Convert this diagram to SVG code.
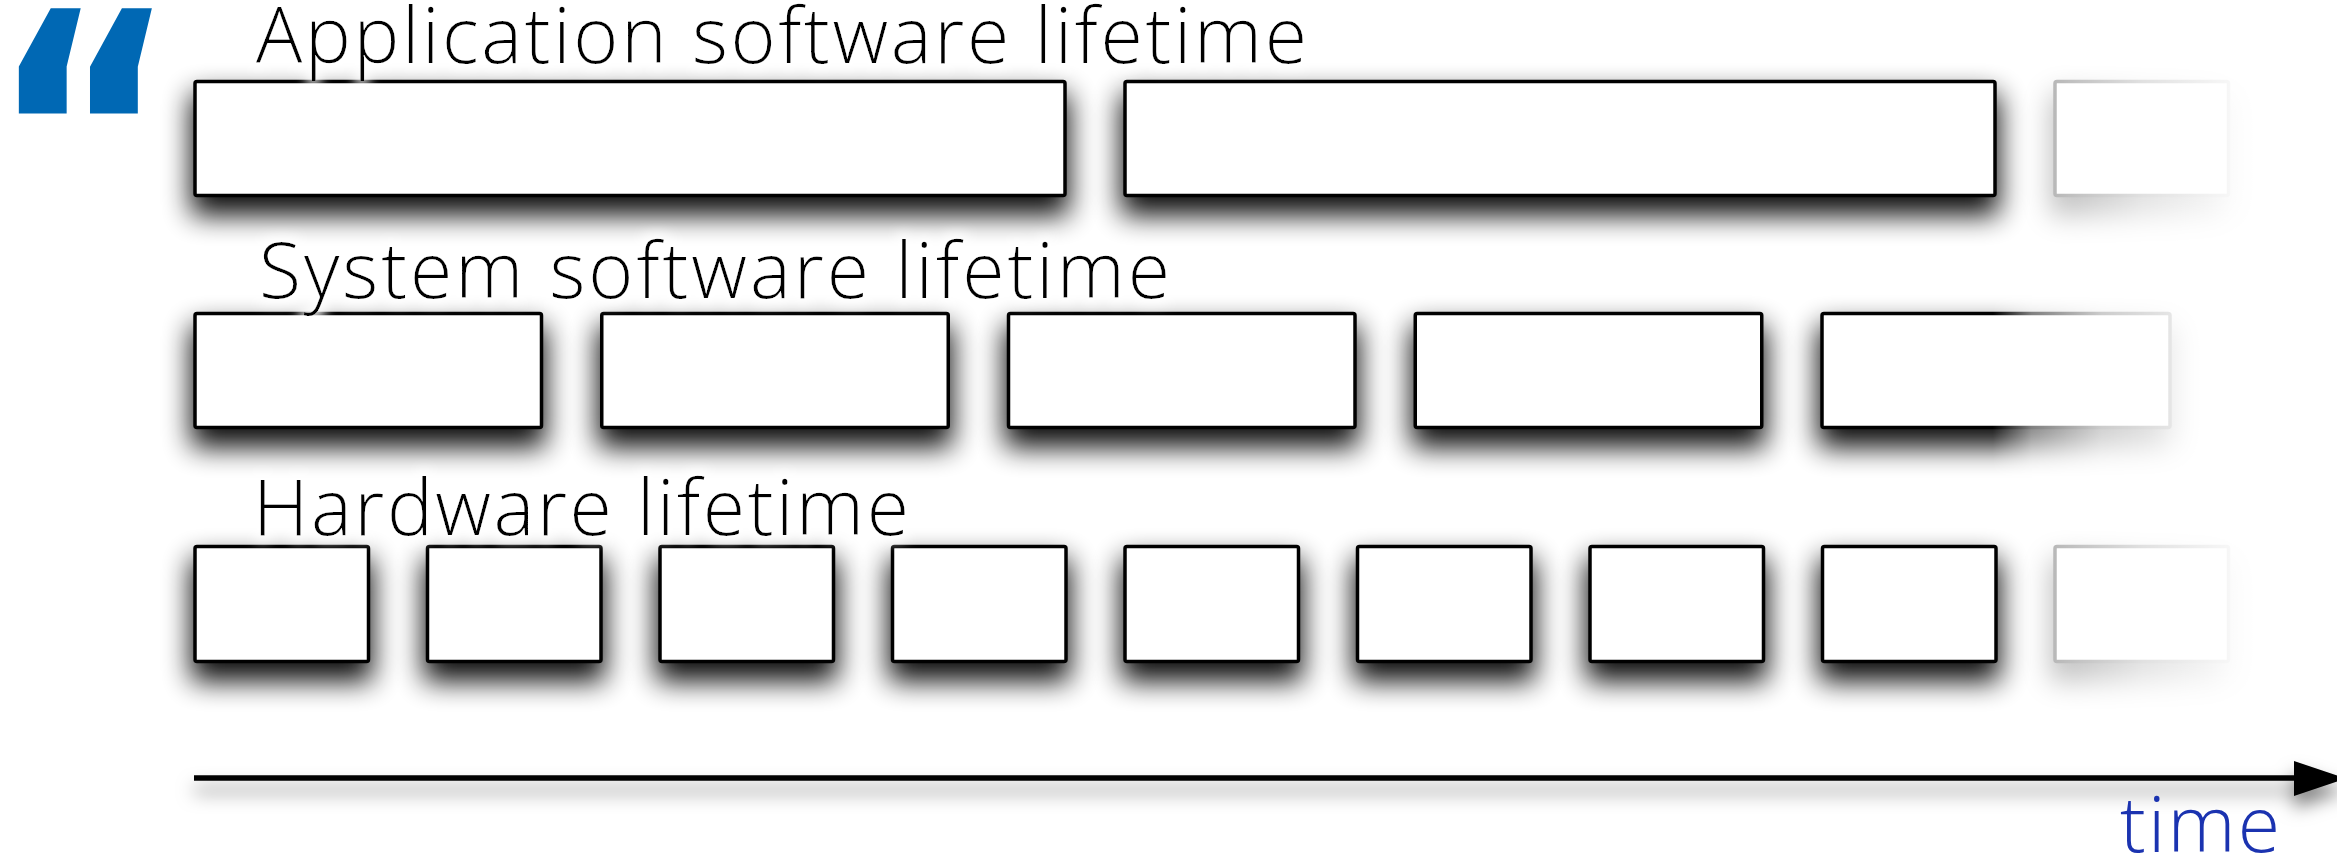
<svg xmlns="http://www.w3.org/2000/svg" width="2337" height="856" viewBox="0 0 2337 856">
  <style>
    .box { fill: #ffffff; stroke: #000000; stroke-width: 3.5; }
    .lbl { font-family: "Open Sans", "Liberation Sans", sans-serif; font-weight: 300; font-size: 77px; fill: #000000; }
    .time { font-family: "Open Sans", "Liberation Sans", sans-serif; font-weight: 300; font-size: 77px; fill: #1b33b0; }
    .quote { font-family: "DejaVu Sans", sans-serif; font-weight: bold; font-size: 300px; fill: #0068b4; }
  </style>
  <defs>
    <filter id="sh" x="-30%" y="-50%" width="160%" height="240%">
      <feMorphology in="SourceAlpha" operator="dilate" radius="2" result="d"/>
      <feGaussianBlur in="d" stdDeviation="14" result="b"/>
      <feOffset in="b" dx="0" dy="16" result="o"/>
      <feComponentTransfer in="o" result="s"><feFuncA type="linear" slope="0.95"/></feComponentTransfer>
      <feMerge><feMergeNode in="s"/><feMergeNode in="SourceGraphic"/></feMerge>
    </filter>
    <filter id="ash" x="-5%" y="-400%" width="110%" height="1000%">
      <feDropShadow dx="0" dy="12" stdDeviation="9" flood-color="#000" flood-opacity="0.5"/>
    </filter>
    <filter id="glow" x="-5%" y="-30%" width="110%" height="160%">
      <feMorphology in="SourceAlpha" operator="dilate" radius="5" result="d"/>
      <feGaussianBlur in="d" stdDeviation="6" result="b"/>
      <feFlood flood-color="#fff" flood-opacity="0.9"/>
      <feComposite in2="b" operator="in" result="g"/>
      <feMerge><feMergeNode in="g"/><feMergeNode in="SourceGraphic"/></feMerge>
    </filter>
    <linearGradient id="fadeA" gradientUnits="userSpaceOnUse" x1="2053" y1="0" x2="2232" y2="0">
      <stop offset="0" stop-color="#fff" stop-opacity="0.28"/>
      <stop offset="0.5" stop-color="#fff" stop-opacity="0.12"/>
      <stop offset="1" stop-color="#fff" stop-opacity="0.03"/>
    </linearGradient>
    <linearGradient id="fadeS" gradientUnits="userSpaceOnUse" x1="1821" y1="0" x2="2172" y2="0">
      <stop offset="0" stop-color="#fff" stop-opacity="1"/>
      <stop offset="0.49" stop-color="#fff" stop-opacity="1"/>
      <stop offset="0.6" stop-color="#fff" stop-opacity="0.5"/>
      <stop offset="0.8" stop-color="#fff" stop-opacity="0.2"/>
      <stop offset="1" stop-color="#fff" stop-opacity="0.1"/>
    </linearGradient>
    <mask id="mA" maskUnits="userSpaceOnUse" x="1950" y="0" width="387" height="300">
      <rect x="1950" y="0" width="387" height="300" fill="url(#fadeA)"/>
    </mask>
    <mask id="mH" maskUnits="userSpaceOnUse" x="1950" y="480" width="387" height="260">
      <rect x="1950" y="480" width="387" height="260" fill="url(#fadeA)"/>
    </mask>
    <mask id="mS" maskUnits="userSpaceOnUse" x="1750" y="250" width="587" height="250">
      <rect x="1750" y="250" width="587" height="250" fill="url(#fadeS)"/>
    </mask>
  </defs>

  <rect x="0" y="0" width="2337" height="856" fill="#ffffff"/>

  <g id="quote-mark">
    <text class="quote" x="8" y="230" transform="translate(-18.5,-4.6) scale(0.96,1.13)">“</text>
  </g>

  <g id="app-row">
    <g id="app-1" filter="url(#sh)"><rect class="box" x="195" y="81.5" width="870" height="114" rx="2"/></g>
    <g id="app-2" filter="url(#sh)"><rect class="box" x="1125" y="81.5" width="870" height="114" rx="2"/></g>
    <g id="app-3" mask="url(#mA)"><g filter="url(#sh)"><rect class="box" x="2055" y="81.5" width="173.5" height="114" rx="2"/></g></g>
  </g>

  <g id="sys-row">
    <g id="sys-1" filter="url(#sh)"><rect class="box" x="195" y="313.5" width="346.5" height="114" rx="2"/></g>
    <g id="sys-2" filter="url(#sh)"><rect class="box" x="601.75" y="313.5" width="346.5" height="114" rx="2"/></g>
    <g id="sys-3" filter="url(#sh)"><rect class="box" x="1008.5" y="313.5" width="346.5" height="114" rx="2"/></g>
    <g id="sys-4" filter="url(#sh)"><rect class="box" x="1415.25" y="313.5" width="346.5" height="114" rx="2"/></g>
    <g id="sys-5" mask="url(#mS)"><g filter="url(#sh)"><rect class="box" x="1822" y="313.5" width="348" height="114" rx="2"/></g></g>
  </g>

  <g id="hw-row">
    <g id="hw-1" filter="url(#sh)"><rect class="box" x="195" y="546.5" width="173.5" height="115" rx="2"/></g>
    <g id="hw-2" filter="url(#sh)"><rect class="box" x="427.5" y="546.5" width="173.5" height="115" rx="2"/></g>
    <g id="hw-3" filter="url(#sh)"><rect class="box" x="660" y="546.5" width="173.5" height="115" rx="2"/></g>
    <g id="hw-4" filter="url(#sh)"><rect class="box" x="892.5" y="546.5" width="173.5" height="115" rx="2"/></g>
    <g id="hw-5" filter="url(#sh)"><rect class="box" x="1125" y="546.5" width="173.5" height="115" rx="2"/></g>
    <g id="hw-6" filter="url(#sh)"><rect class="box" x="1357.5" y="546.5" width="173.5" height="115" rx="2"/></g>
    <g id="hw-7" filter="url(#sh)"><rect class="box" x="1590" y="546.5" width="173.5" height="115" rx="2"/></g>
    <g id="hw-8" filter="url(#sh)"><rect class="box" x="1822.5" y="546.5" width="173.5" height="115" rx="2"/></g>
    <g id="hw-9" mask="url(#mH)"><g filter="url(#sh)"><rect class="box" x="2055" y="546.5" width="173.5" height="115" rx="2"/></g></g>
  </g>

  <g id="labels" filter="url(#glow)">
    <text class="lbl" x="256" y="63" textLength="1051">Application software lifetime</text>
    <text class="lbl" x="259" y="298" textLength="911">System software lifetime</text>
    <text class="lbl" x="253" y="535" textLength="656">Hardware lifetime</text>
  </g>

  <g id="connectors">
    <g id="time-axis" filter="url(#ash)">
      <line x1="194" y1="778" x2="2296" y2="778" stroke="#000" stroke-width="5.5"/>
      <polygon points="2294,761 2346,778.5 2294,796" fill="#000"/>
    </g>
    <text class="time" x="2120" y="852" textLength="160">time</text>
  </g>
</svg>
